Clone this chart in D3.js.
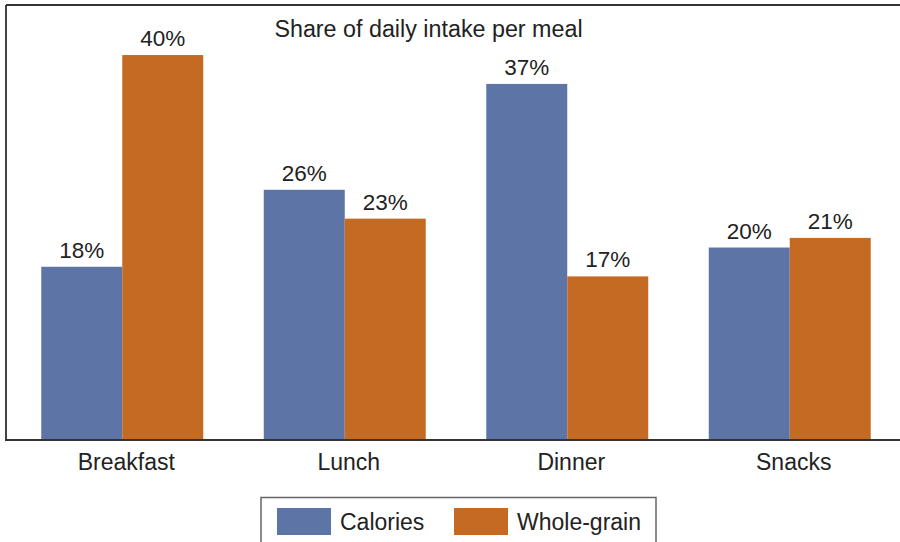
<!DOCTYPE html>
<html>
<head>
<meta charset="utf-8">
<script src="https://cdn.jsdelivr.net/npm/d3@7"></script>
<style>
  html, body { margin: 0; padding: 0; background: #fff; }
  svg { display: block; }
  text { font-family: "Liberation Sans", Arial, Helvetica, sans-serif; fill: #222; }
</style>
</head>
<body>
<svg id="chart" width="900" height="542"></svg>
<script>
const categories = ["Breakfast", "Lunch", "Dinner", "Snacks"];
const seriesNames = ["Calories", "Whole-grain"];
const calories = [18, 26, 37, 20];
const wholeGrain = [40, 23, 17, 21];
const titleText = "Share of daily intake per meal";
const colors = ["#5d74a6", "#c56a23"];

const svg = d3.select("#chart");
const W = 900, H = 542;
const plot = { left: 6, right: 901, top: 5, bottom: 440 };

const x0 = d3.scaleBand()
  .domain(categories)
  .range([11, 901])
  .paddingInner(0.272)
  .paddingOuter(0.136);
const x1 = d3.scaleBand()
  .domain(seriesNames)
  .range([0, x0.bandwidth()]);
const y = d3.scaleLinear()
  .domain([0, 45.2])
  .range([plot.bottom, plot.top]);

const table = categories.map((c, i) => ({
  cat: c,
  vals: [{ s: seriesNames[0], v: calories[i] }, { s: seriesNames[1], v: wholeGrain[i] }]
}));

// frame
svg.append("line").attr("x1", plot.left).attr("x2", plot.left)
  .attr("y1", plot.top).attr("y2", plot.bottom)
  .attr("stroke", "#444").attr("stroke-width", 2);
svg.append("line").attr("x1", plot.left).attr("x2", W)
  .attr("y1", plot.top).attr("y2", plot.top)
  .attr("stroke", "#333").attr("stroke-width", 2);

const g = svg.append("g");
const groups = g.selectAll("g.grp").data(table).enter().append("g")
  .attr("transform", d => `translate(${x0(d.cat)},0)`);

groups.selectAll("rect").data(d => d.vals).enter().append("rect")
  .attr("x", d => x1(d.s))
  .attr("width", x1.bandwidth())
  .attr("y", d => y(d.v))
  .attr("height", d => y(0) - y(d.v))
  .attr("fill", (d, i) => colors[i]);

groups.selectAll("text").data(d => d.vals).enter().append("text")
  .attr("x", d => x1(d.s) + x1.bandwidth() / 2)
  .attr("y", d => y(d.v) - 9)
  .attr("text-anchor", "middle")
  .attr("font-size", "22.5px")
  .text(d => d.v + "%");

// x axis
const xAxis = d3.axisBottom(x0).tickSize(0).tickPadding(0);
const ax = svg.append("g").attr("transform", `translate(4,${plot.bottom})`).call(xAxis);
ax.select(".domain").remove();
ax.selectAll("text")
  .attr("font-size", "23px")
  .attr("dy", null)
  .attr("y", 30)
  .style("font-family", '"Liberation Sans", Arial, sans-serif')
  .attr("fill", "#222");
svg.append("line").attr("x1", plot.left - 1).attr("x2", W)
  .attr("y1", plot.bottom).attr("y2", plot.bottom)
  .attr("stroke", "#333").attr("stroke-width", 2);

// title
svg.append("text")
  .attr("x", 428.5).attr("y", 36.5)
  .attr("text-anchor", "middle")
  .attr("font-size", "23.3px")
  .text(titleText);

// legend
const lg = svg.append("g");
lg.append("rect").attr("x", 261).attr("y", 497.5)
  .attr("width", 395).attr("height", 60)
  .attr("fill", "none").attr("stroke", "#666").attr("stroke-width", 1.5);
const legX = [277, 454];
seriesNames.forEach((s, i) => {
  lg.append("rect").attr("x", legX[i]).attr("y", 508)
    .attr("width", 54).attr("height", 27).attr("fill", colors[i]);
  lg.append("text").attr("x", legX[i] + 63).attr("y", 530)
    .attr("font-size", "23px").text(s);
});
</script>
</body>
</html>
